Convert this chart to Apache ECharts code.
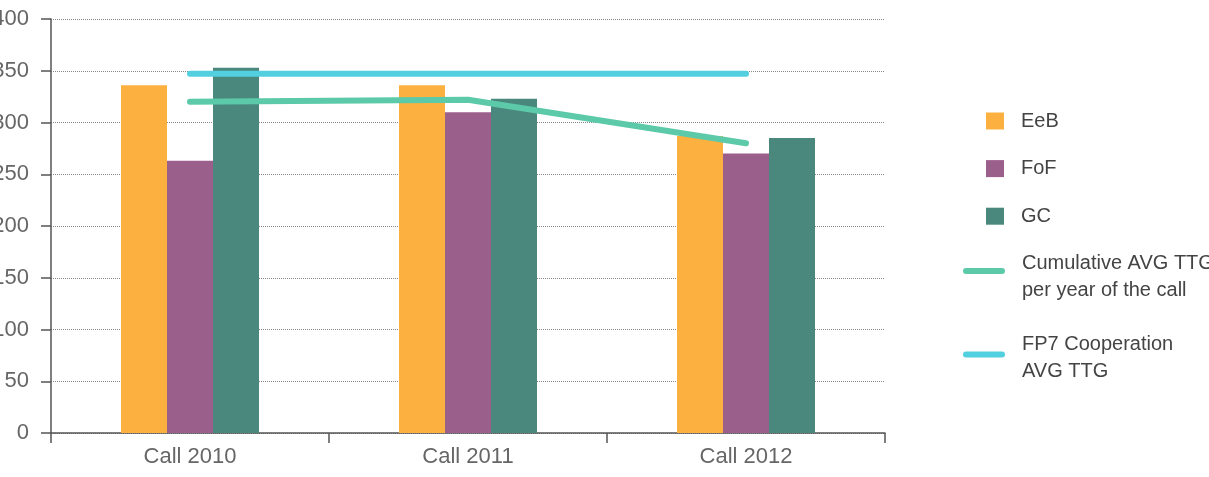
<!DOCTYPE html>
<html>
<head>
<meta charset="utf-8">
<script src="https://cdn.jsdelivr.net/npm/echarts@6/dist/echarts.min.js"></script>
<style>
  html, body { margin: 0; padding: 0; background: #fff; }
  #chart { width: 1209px; height: 477px; }
</style>
</head>
<body>
<div id="chart"></div>
<script>
// 数据
const categories = ['Call 2010', 'Call 2011', 'Call 2012'];
const eebValues = [336, 336, 287];
const fofValues = [263, 310, 270];
const gcValues = [353, 323, 285];
const cumulativeValues = [320, 322, 280];
const fp7Values = [347, 347, 347];
const yTicks = [0, 50, 100, 150, 200, 250, 300, 350, 400];

const CUM_NAME = 'Cumulative AVG TTG\nper year of the call';
const FP7_NAME = 'FP7 Cooperation\nAVG TTG';
const FONT = '"Liberation Sans", Arial, sans-serif';
const lineIcon = 'path://M3,0H39A3,3,0,0,1,39,6H3A3,3,0,0,1,3,0Z';

const chart = echarts.init(document.getElementById('chart'));

const barSeries = (name, data, color) => ({
  name: name,
  type: 'bar',
  data: data,
  barWidth: 46,
  barGap: '0%',
  itemStyle: { color: color },
});

const lineSeries = (name, data, color) => ({
  name: name,
  type: 'line',
  data: data,
  symbol: 'none',
  showSymbol: false,
  itemStyle: { color: color },
  lineStyle: { color: color, width: 6, cap: 'round', join: 'round' },
  z: 5,
});

const options = {
  animation: false,
  textStyle: { fontFamily: FONT },
  //坐标轴位置固定，标签允许超出画布
  grid: { left: 51, right: 324, top: 19, bottom: 44, containLabel: false, outerBoundsMode: 'none' },
  legend: [
    {
      orient: 'vertical',
      left: 986,
      top: 111,
      padding: 0,
      itemWidth: 18,
      itemHeight: 17,
      itemGap: 27.6,
      icon: 'rect',
      data: ['EeB', 'FoF', 'GC'],
      textStyle: { color: '#444', fontSize: 20, lineHeight: 20, padding: [0, 0, 0, 12], fontFamily: FONT },
    },
    {
      orient: 'vertical',
      left: 963,
      top: 239,
      padding: 0,
      itemWidth: 42,
      itemHeight: 6,
      itemGap: 24,
      data: [
        { name: CUM_NAME, icon: lineIcon },
        { name: FP7_NAME, icon: lineIcon },
      ],
      //顶部空行让文字比图标略低
      formatter: (name) =>
        (name === CUM_NAME ? '{s| }\n' : '{s2| }\n') +
        name.split('\n').map((l) => '{t|' + l + '}').join('\n'),
      textStyle: {
        color: '#444',
        fontSize: 20,
        padding: [0, 0, 0, 12],
        fontFamily: FONT,
        rich: {
          s: { fontSize: 10, lineHeight: 12 },
          s2: { fontSize: 6, lineHeight: 6 },
          t: { color: '#444', fontSize: 20, lineHeight: 27, fontFamily: FONT },
        },
      },
    },
  ],
  xAxis: {
    type: 'category',
    data: categories,
    boundaryGap: true,
    axisLine: { show: true, lineStyle: { color: '#555', width: 1.5 } },
    axisTick: { show: true, length: 10, alignWithLabel: false, lineStyle: { color: '#555', width: 1.5 } },
    axisLabel: { color: '#666', fontSize: 22, margin: 13, fontFamily: FONT },
  },
  yAxis: {
    type: 'value',
    min: yTicks[0],
    max: yTicks[yTicks.length - 1],
    interval: yTicks[1] - yTicks[0],
    axisLine: { show: true, lineStyle: { color: '#555', width: 1.5 } },
    axisTick: { show: true, length: 10, lineStyle: { color: '#555', width: 1.5 } },
    axisLabel: { color: '#666', fontSize: 22, margin: 22, fontFamily: FONT },
    splitLine: { show: true, lineStyle: { color: '#888', type: 'dotted', width: 1 } },
  },
  series: [
    barSeries('EeB', eebValues, '#fbb040'),
    barSeries('FoF', fofValues, '#9b5f8c'),
    barSeries('GC', gcValues, '#4a877c'),
    lineSeries(CUM_NAME, cumulativeValues, '#5ccaa8'),
    lineSeries(FP7_NAME, fp7Values, '#52d0e0'),
  ],
};

chart.setOption(options);
</script>
</body>
</html>
